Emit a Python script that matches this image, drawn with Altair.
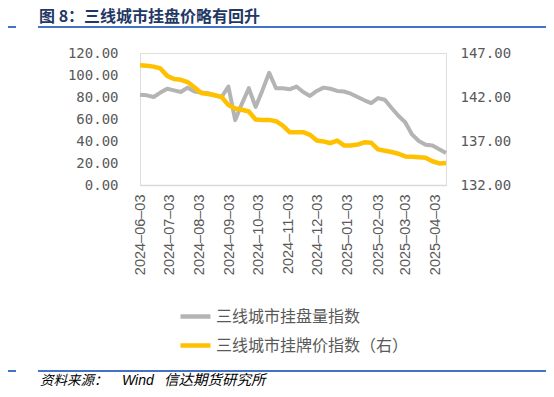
import altair as alt
import pandas as pd

dates = [
    "2024-06-03", "2024-06-10", "2024-06-17", "2024-06-24", "2024-07-01", "2024-07-08",
    "2024-07-15", "2024-07-22", "2024-07-29", "2024-08-05", "2024-08-12", "2024-08-19",
    "2024-08-26", "2024-09-02", "2024-09-09", "2024-09-16", "2024-09-23", "2024-09-30",
    "2024-10-07", "2024-10-14", "2024-10-21", "2024-10-28", "2024-11-04", "2024-11-11",
    "2024-11-18", "2024-11-25", "2024-12-02", "2024-12-09", "2024-12-16", "2024-12-23",
    "2024-12-30", "2025-01-06", "2025-01-13", "2025-01-20", "2025-01-27", "2025-02-03",
    "2025-02-10", "2025-02-17", "2025-02-24", "2025-03-03", "2025-03-10", "2025-03-17",
    "2025-03-24", "2025-03-31", "2025-04-07", "2025-04-14",
]

listing_volume = [
    82, 81.5, 80, 84, 87.5, 86, 84.5, 88.5, 85, 84, 83.5, 81.5, 80, 89.5, 59, 74,
    88, 71, 86, 102, 88, 88, 87, 89.5, 84.5, 81, 85.5, 88.5, 87.5, 85.5, 85, 83,
    80, 77, 74.5, 79, 77.5, 70, 63, 57, 46, 40, 36.5, 36, 32.5, 29,
]

listing_price = [
    145.6, 145.55, 145.45, 145.25, 144.4, 144.05, 143.95, 143.7, 143.1, 142.45, 142.35,
    142.2, 142.0, 141.1, 140.7, 140.55, 140.35, 139.45, 139.4, 139.4, 139.25, 138.75,
    138.0, 138.0, 138.0, 137.7, 137.05, 136.95, 136.75, 137.05, 136.5, 136.5, 136.6,
    136.85, 136.8, 136.05, 135.9, 135.75, 135.55, 135.25, 135.2, 135.15, 135.1, 134.7,
    134.45, 134.5,
]

series_names = ["三线城市挂盘量指数", "三线城市挂牌价指数（右）"]
series_colors = ["#B4B4B4", "#FFC000"]
left_ticks = [0, 20, 40, 60, 80, 100, 120]
right_ticks = [132, 137, 142, 147]
x_label_dates = [
    (2024, 6), (2024, 7), (2024, 8), (2024, 9), (2024, 10), (2024, 11),
    (2024, 12), (2025, 1), (2025, 2), (2025, 3), (2025, 4),
]

title_text = "图 8：三线城市挂盘价略有回升"
source_parts = ["资料来源：", "Wind", "信达期货研究所"]

df_vol = pd.DataFrame({"date": dates, "value": listing_volume, "series": series_names[0]})
df_price = pd.DataFrame({"date": dates, "value": listing_price, "series": series_names[1]})

label_font = "DejaVu Sans Mono"
cjk = "Noto Sans CJK SC"

color = alt.Color(
    "series:N",
    scale=alt.Scale(domain=series_names, range=series_colors),
    legend=alt.Legend(
        title=None,
        orient="none",
        legendX=38,
        legendY=246,
        direction="vertical",
        symbolType="stroke",
        symbolSize=900,
        symbolStrokeWidth=4.5,
        labelFont=cjk,
        labelFontSize=16,
        labelColor="#595959",
        labelOffset=3,
        labelLimit=0,
        rowPadding=2,
    ),
)

x_enc = alt.X(
    "date:T",
    scale=alt.Scale(
        type="utc",
        domain=[
            alt.DateTime(year=2024, month=6, date=3, utc=True),
            alt.DateTime(year=2025, month=4, date=14, utc=True),
        ],
        nice=False,
    ),
    axis=alt.Axis(
        values=[alt.DateTime(year=y, month=m, date=3, utc=True) for y, m in x_label_dates],
        labelExpr="utcFormat(datum.value, '%Y–%m–%d')",
        labelAngle=270,
        labelAlign="right",
        labelBaseline="middle",
        labelFont="Liberation Sans",
        labelFontSize=14.5,
        labelColor="#595959",
        labelPadding=9,
        ticks=False,
        grid=False,
        domainColor="#D9D9D9",
        domainWidth=1.5,
        title=None,
        labelOverlap=False,
    ),
)

vol = alt.Chart(df_vol).mark_line(strokeWidth=4, strokeJoin="round").encode(
    x=x_enc,
    y=alt.Y(
        "value:Q",
        scale=alt.Scale(domain=[0, 120], nice=False),
        axis=alt.Axis(
            values=left_ticks,
            format=".2f",
            orient="left",
            grid=False,
            domain=False,
            ticks=False,
            labelFont=label_font,
            labelFontSize=14,
            labelColor="#595959",
            labelPadding=22,
            title=None,
        ),
    ),
    color=color,
)

price = alt.Chart(df_price).mark_line(strokeWidth=4.5, strokeJoin="round").encode(
    x=x_enc,
    y=alt.Y(
        "value:Q",
        scale=alt.Scale(domain=[132, 147], nice=False, zero=False),
        axis=alt.Axis(
            values=right_ticks,
            format=".2f",
            orient="right",
            grid=False,
            domain=False,
            ticks=False,
            labelFont=label_font,
            labelFontSize=14,
            labelColor="#595959",
            labelPadding=14,
            title=None,
        ),
    ),
    color=color,
)

blank = alt.Data(values=[{}])
blue = "#4472C4"


def rule(x1, x2, y):
    return alt.Chart(blank).mark_rule(color=blue, strokeWidth=2).encode(
        x=alt.value(x1), x2=alt.value(x2), y=alt.value(y)
    )


title = alt.Chart(blank).mark_text(
    align="left", baseline="middle", font=cjk, fontSize=16, fontWeight="bold", color="#1F3864"
).encode(x=alt.value(-101), y=alt.value(-36), text=alt.value(title_text))

src_y = 328
src1 = alt.Chart(blank).mark_text(
    align="left", baseline="middle", font=cjk, fontSize=13.5, fontStyle="italic", color="#000000"
).encode(x=alt.value(-100), y=alt.value(src_y), text=alt.value(source_parts[0]))
src2 = alt.Chart(blank).mark_text(
    align="left", baseline="middle", font="Liberation Sans", fontSize=14, fontStyle="italic", color="#000000"
).encode(x=alt.value(-18), y=alt.value(src_y), text=alt.value(source_parts[1]))
src3 = alt.Chart(blank).mark_text(
    align="left", baseline="middle", font=cjk, fontSize=14.5, fontStyle="italic", color="#000000"
).encode(x=alt.value(24), y=alt.value(src_y), text=alt.value(source_parts[2]))

chart = (
    alt.layer(
        vol, price,
        rule(-102, 414, -26), rule(-135, -124, -26),
        rule(-102, 414, 318), rule(-135, -124, 318),
        title, src1, src2, src3,
    )
    .resolve_scale(y="independent")
    .properties(
        width=306,
        height=132,
        autosize=alt.AutoSizeParams(type="none"),
        padding={"left": 132, "top": 45, "right": 100, "bottom": 204},
    )
    .configure_view(stroke=None)
    .configure(background="white")
)

chart.save("out.html", embed_options={"renderer": "svg", "actions": False})
